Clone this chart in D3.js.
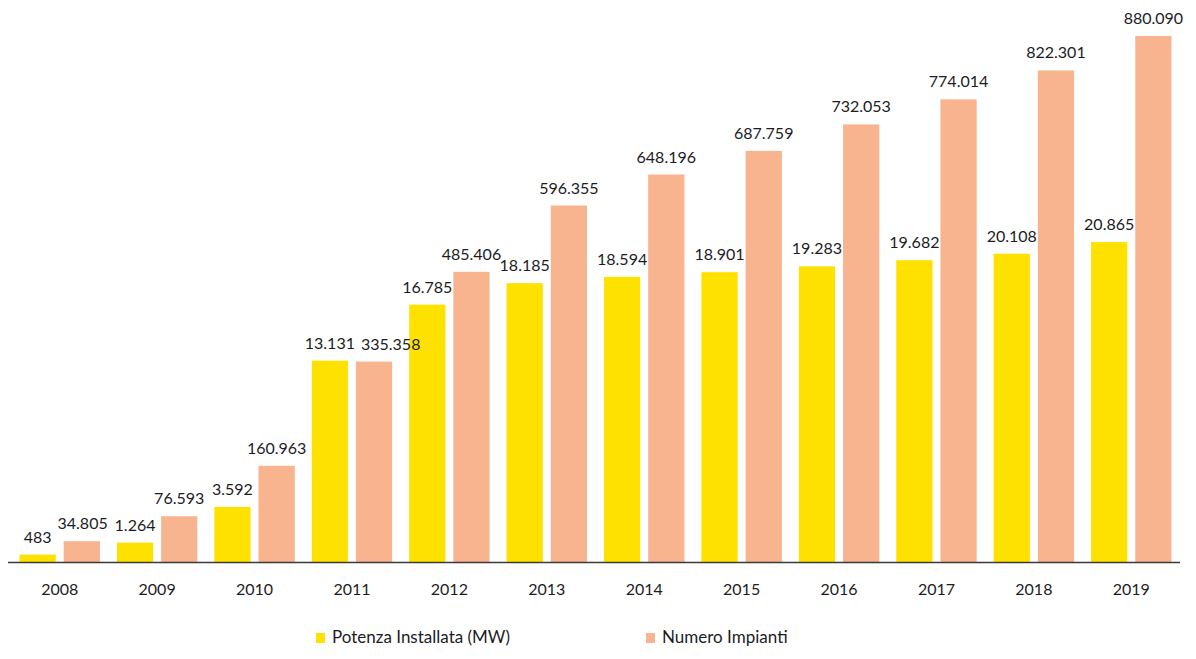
<!DOCTYPE html>
<html>
<head>
<meta charset="utf-8">
<script src="https://d3js.org/d3.v7.min.js"></script>
<style>
  body { margin: 0; background: #fff; }
  text { font-family: Lato, "Open Sans", sans-serif; fill: #1c1c24; }
</style>
</head>
<body>
<div id="chart"></div>
<script>
// data
var years = ["2008", "2009", "2010", "2011", "2012", "2013", "2014", "2015", "2016", "2017", "2018", "2019"];
var potenza = [483, 1264, 3592, 13131, 16785, 18185, 18594, 18901, 19283, 19682, 20108, 20865];
var impianti = [34805, 76593, 160963, 335358, 485406, 596355, 648196, 687759, 732053, 774014, 822301, 880090];
var seriesNames = ["Potenza Installata (MW)", "Numero Impianti"];
var colors = ["#FFE100", "#F8B38F"];

var svgWidth = 1196, svgHeight = 659;
var baseY = 562;

var svg = d3.select("#chart").append("svg")
  .attr("width", svgWidth)
  .attr("height", svgHeight);

// scales
var x0 = d3.scaleBand().domain(years).range([11, 1180]).paddingInner(0).paddingOuter(0);
var x1 = d3.scaleBand().domain([0, 1]).range([8.5, x0.bandwidth() - 8.5]).paddingInner(0.18);

// two different value scales (MW vs count)
var yPot = d3.scaleLinear().domain([0, 30000]).range([baseY, baseY - 460]);
var yImp = d3.scaleLinear().domain([0, 900000]).range([baseY, baseY - 538]);

var fmt = d3.formatLocale({ decimal: ",", thousands: ".", grouping: [3], currency: ["", ""] }).format(",");

// flat list of bars built from the arrays
var bars = [];
years.forEach(function(year, i) {
  bars.push({ year: year, s: 0, v: potenza[i], y: yPot(potenza[i]) });
  bars.push({ year: year, s: 1, v: impianti[i], y: yImp(impianti[i]) });
});

var barX = d => x0(d.year) + x1(d.s);

svg.append("g").selectAll("rect")
  .data(bars)
  .enter()
  .append("rect")
  .attr("x", barX)
  .attr("y", d => d.y)
  .attr("width", x1.bandwidth())
  .attr("height", d => baseY - d.y)
  .attr("fill", d => colors[d.s]);

// labels on top of all bars
var labels = svg.append("g").selectAll("text")
  .data(bars)
  .enter()
  .append("text")
  .attr("x", d => barX(d) + x1.bandwidth() / 2)
  .attr("y", d => d.y - 12)
  .attr("text-anchor", "middle")
  .style("font-size", "16px")
  .text(d => fmt(d.v));

// nudge a second label right if it would collide with the first one of the same year
var nodes = labels.nodes();
for (var k = 1; k < nodes.length; k += 2) {
  var b0 = nodes[k - 1].getBBox(), b1 = nodes[k].getBBox();
  var vOverlap = b0.y < b1.y + b1.height && b1.y < b0.y + b0.height;
  if (vOverlap && b0.x + b0.width + 6 > b1.x) {
    var shift = b0.x + b0.width + 6 - b1.x;
    d3.select(nodes[k]).attr("x", +d3.select(nodes[k]).attr("x") + shift);
  }
}

// x axis
var xAxis = d3.axisBottom(x0).tickSize(0).tickPadding(22);
var axisG = svg.append("g")
  .attr("transform", `translate(0, ${baseY})`)
  .call(xAxis);
axisG.select(".domain").remove();
axisG.selectAll("text")
  .style("font-size", "16px")
  .style("font-family", "Lato, sans-serif")
  .attr("fill", "#1c1c24");
svg.append("line")
  .attr("x1", 8).attr("x2", 1180)
  .attr("y1", baseY + 0.5).attr("y2", baseY + 0.5)
  .attr("stroke", "#3a3a3a")
  .attr("stroke-width", 1.6);

// legend
var legendX = [316, 646];
var legend = svg.selectAll("g.legend")
  .data(seriesNames)
  .enter()
  .append("g")
  .attr("class", "legend")
  .attr("transform", (d, i) => `translate(${legendX[i]}, 633)`);
legend.append("rect")
  .attr("width", 9).attr("height", 10)
  .attr("fill", (d, i) => colors[i]);
legend.append("text")
  .attr("x", 16)
  .attr("y", 10)
  .style("font-size", "17px")
  .text(d => d);
</script>
</body>
</html>
